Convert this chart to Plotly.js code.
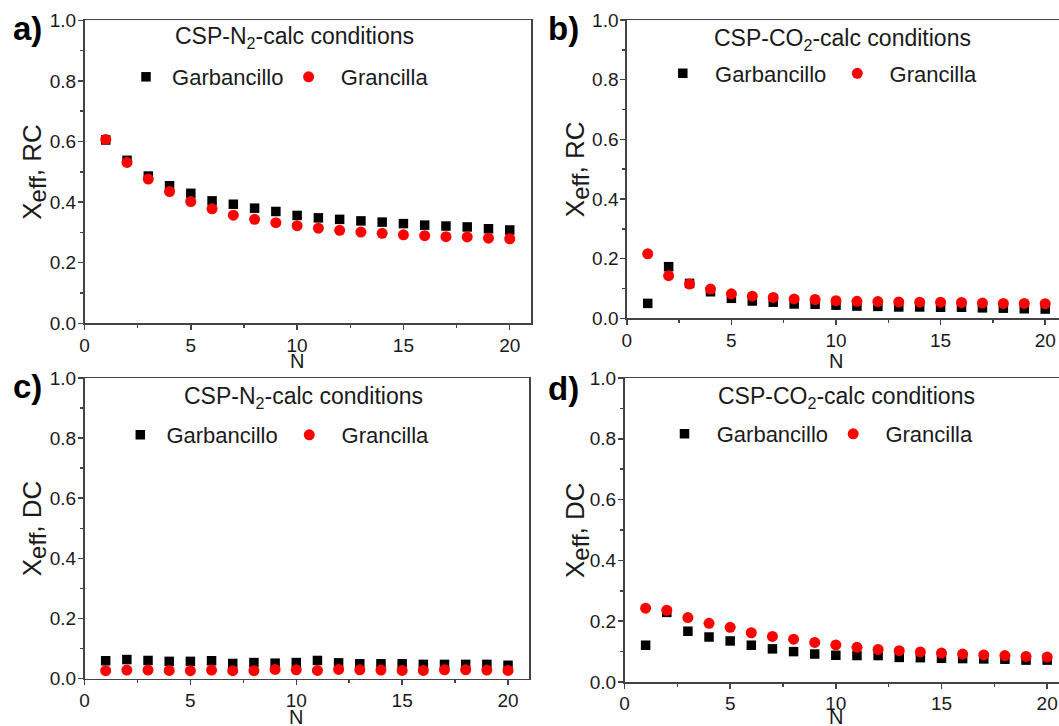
<!DOCTYPE html>
<html>
<head>
<meta charset="utf-8">
<script src="https://cdn.plot.ly/plotly-3.0.1.min.js"></script>
<style>html,body{margin:0;padding:0;background:#fff;}#chart{width:1059px;height:726px;}</style>
</head>
<body>
<div id="chart"></div>
<script>
// ---- data ----
const N = [1,2,3,4,5,6,7,8,9,10,11,12,13,14,15,16,17,18,19,20];
const seriesNames = ['Garbancillo', 'Grancilla'];
const panelLabels = ['a)', 'b)', 'c)', 'd)'];
const panelTitles = ['CSP-N<sub>2</sub>-calc conditions', 'CSP-CO<sub>2</sub>-calc conditions',
                     'CSP-N<sub>2</sub>-calc conditions', 'CSP-CO<sub>2</sub>-calc conditions'];
const yTitles = ['RC', 'RC', 'DC', 'DC'];
const xTitle = 'N';
const yTickVals = [0, 0.2, 0.4, 0.6, 0.8, 1.0];
const xTickVals = [0, 5, 10, 15, 20];

const garA = [0.605,0.538,0.486,0.454,0.429,0.404,0.393,0.380,0.369,0.356,0.348,0.343,0.338,0.334,0.329,0.324,0.321,0.318,0.312,0.308];
const graA = [0.607,0.531,0.476,0.435,0.402,0.378,0.357,0.343,0.332,0.322,0.314,0.307,0.301,0.297,0.292,0.289,0.286,0.285,0.281,0.279];
const garB = [0.050,0.173,0.117,0.089,0.067,0.058,0.054,0.048,0.047,0.044,0.041,0.040,0.038,0.038,0.037,0.037,0.035,0.034,0.032,0.031];
const graB = [0.216,0.143,0.115,0.098,0.082,0.074,0.070,0.065,0.063,0.059,0.057,0.056,0.055,0.054,0.054,0.053,0.051,0.050,0.050,0.049];
const garC = [0.059,0.063,0.060,0.057,0.057,0.059,0.050,0.053,0.051,0.053,0.060,0.052,0.049,0.049,0.049,0.047,0.047,0.047,0.047,0.044];
const graC = [0.026,0.028,0.028,0.027,0.026,0.028,0.026,0.026,0.030,0.029,0.027,0.030,0.029,0.028,0.027,0.027,0.029,0.029,0.028,0.027];
const garD = [0.121,0.229,0.167,0.148,0.135,0.121,0.109,0.100,0.092,0.088,0.087,0.087,0.081,0.080,0.078,0.077,0.076,0.075,0.072,0.072];
const graD = [0.243,0.236,0.212,0.193,0.180,0.162,0.150,0.141,0.130,0.122,0.114,0.107,0.103,0.099,0.095,0.092,0.089,0.087,0.084,0.082];

const garbancillo = [garA, garB, garC, garD];
const grancilla = [graA, graB, graC, graD];

// ---- layout geometry (px) ----
const W = 1059, H = 726;
const panels = [
  {x0: 84.5, x1: 531, yTop: 20.3, yBot: 323.3, xmax: 21,    mirrorY: true},
  {x0: 626.8, x1: 1059, yTop: 20.0, yBot: 318.3, xmax: 20.66, mirrorY: false},
  {x0: 84.5, x1: 529.2, yTop: 378, yBot: 678.5, xmax: 21,     mirrorY: true},
  {x0: 624.5, x1: 1059, yTop: 378, yBot: 682, xmax: 20.56,  mirrorY: false}
];
const legendPos = [{x:126, y:77}, {x:662.8, y:73.5}, {x:120.3, y:435}, {x:664.5, y:434}];
const legendPad = [[1,2],[2,2],[1,2],[2,2]];      // non-breaking spaces before each legend name
const legendFirstWidth = [117.6, 129.5, 124, 123.7]; // width of first legend entry text slot
const titlePos = [{x:294.9, y:38}, {x:842.9, y:39.5}, {x:303.4, y:397.5}, {x:846.3, y:397.5}];
const letterPos = [{x:27, y:28.5}, {x:563.7, y:28.5}, {x:27, y:386.5}, {x:563.7, y:388.5}];
const yTitleX = [34, 577, 34, 577];
const nTitleY = [360.5, 360.5, 717, 717];

const TXT = '#1a1a1a', AX = '#444';
const FONT = 'Liberation Sans, Arial, sans-serif';
const px2x = v => v / W, px2y = v => 1 - v / H;

const traces = [];
const layout = {
  width: W, height: H,
  margin: {l:0, r:0, t:0, b:0},
  paper_bgcolor: '#fff', plot_bgcolor: '#fff',
  font: {family: FONT, color: TXT, size: 19},
  showlegend: true,
  annotations: []
};

panels.forEach((p, i) => {
  const k = i === 0 ? '' : String(i + 1);
  const xa = 'x' + k, ya = 'y' + k;
  const legId = 'legend' + k;
  [garbancillo[i], grancilla[i]].forEach((vals, s) => {
    const tr = {
      type: 'scatter', mode: 'markers', x: N, y: vals, xaxis: xa, yaxis: ya,
      name: '\u00a0'.repeat(legendPad[i][s]) + seriesNames[s], legend: legId, cliponaxis: false,
      marker: s === 0 ? {symbol: 'square', size: 9.5, color: '#000'} : {symbol: 'circle', size: 11, color: '#ff0000'}
    };
    if (s === 0) tr.legendwidth = legendFirstWidth[i];
    traces.push(tr);
  });
  const common = {
    showline: true, linecolor: AX, linewidth: 1.5,
    ticks: 'outside', ticklen: 5, tickwidth: 1.5, tickcolor: AX,
    showgrid: false, zeroline: false, fixedrange: true,
    tickfont: {size: 19, color: TXT, family: FONT}
  };
  layout['xaxis' + k] = Object.assign({}, common, {
    domain: [px2x(p.x0), Math.min(1, px2x(p.x1))], range: [0, p.xmax], anchor: ya,
    tickvals: xTickVals, mirror: true, ticklabelstandoff: -1,
    minor: {dtick: 2.5, tick0: 0, ticks: 'outside', ticklen: 3, tickwidth: 1.5, tickcolor: AX, showgrid: false}
  });
  layout['yaxis' + k] = Object.assign({}, common, {
    domain: [px2y(p.yBot), px2y(p.yTop)], range: [0, 1], anchor: xa,
    tickvals: yTickVals, tickformat: '.1f', mirror: p.mirrorY, ticklabelstandoff: -2,
    minor: {dtick: 0.1, tick0: 0, ticks: 'outside', ticklen: 3, tickwidth: 1.5, tickcolor: AX, showgrid: false}
  });
  layout[legId] = {
    orientation: 'h', x: px2x(legendPos[i].x), y: px2y(legendPos[i].y),
    xanchor: 'left', yanchor: 'middle', bgcolor: 'rgba(0,0,0,0)', borderwidth: 0,
    font: {size: 22, color: TXT, family: FONT}, traceorder: 'normal'
  };
  layout.annotations.push(
    {xref:'paper', yref:'paper', x: px2x(titlePos[i].x), y: px2y(titlePos[i].y), xanchor:'center', yanchor:'middle',
     text: panelTitles[i], showarrow:false, font:{size:23, color:TXT, family:FONT}},
    {xref:'paper', yref:'paper', x: px2x(letterPos[i].x), y: px2y(letterPos[i].y), xanchor:'center', yanchor:'middle',
     text: '<b>' + panelLabels[i] + '</b>', showarrow:false, font:{size:33, color:'#000', family:FONT}},
    {xref:'paper', yref:'paper', x: px2x(yTitleX[i]), y: px2y((p.yTop + p.yBot) / 2), xanchor:'center', yanchor:'middle',
     textangle: -90, text: 'X<span style="baseline-shift:-5px;font-size:24px">eff</span>, ' + yTitles[i], showarrow:false,
     font:{size:26, color:TXT, family:FONT}},
    {xref:'paper', yref:'paper', x: px2x(p.x0 + 10 * (Math.min(p.x1, W) - p.x0) / p.xmax), y: px2y(nTitleY[i]),
     xanchor:'center', yanchor:'middle', text: xTitle, showarrow:false, font:{size:20, color:TXT, family:FONT}}
  );
});

Plotly.newPlot('chart', traces, layout, {displayModeBar: false, staticPlot: true});
</script>
</body>
</html>
